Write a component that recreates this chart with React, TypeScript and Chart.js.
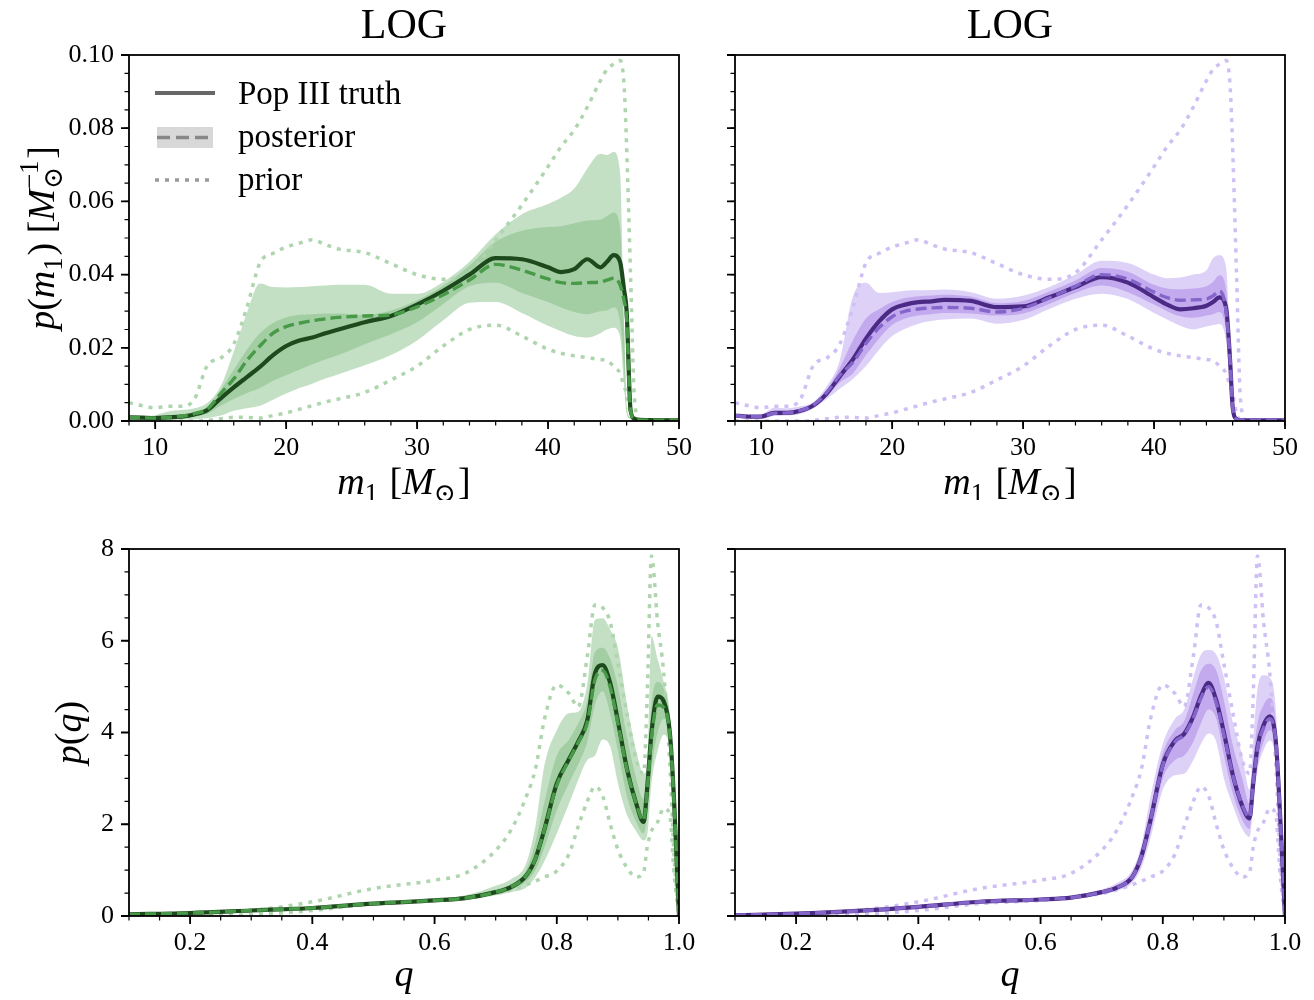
import React, { useEffect, useRef } from "react";
import { Chart, registerables } from "chart.js";

Chart.register(...registerables);

const FONT = "'Liberation Serif', 'Times New Roman', 'DejaVu Serif', serif";

// ---------- primary mass panels (top) ----------
const massGrid = [8, 9, 10, 11, 12, 13, 14, 15, 16, 17, 18, 19, 20, 21, 22, 23, 24, 26, 28, 30, 32, 34, 36, 38, 40, 41, 42, 43, 44, 44.5, 45, 45.5, 45.8, 46, 46.3, 46.6, 47, 50];

const massPriorUpper = [0.005, 0.0042, 0.0036, 0.004, 0.004, 0.006, 0.0153, 0.0172, 0.021, 0.031, 0.0432, 0.0458, 0.0475, 0.0486, 0.0495, 0.0482, 0.047, 0.046, 0.043, 0.04, 0.0387, 0.0405, 0.0495, 0.059, 0.0695, 0.075, 0.0795, 0.0858, 0.093, 0.096, 0.0975, 0.0985, 0.092, 0.075, 0.04, 0.006, 0.0003, 0.0002];
const massPriorLower = [0, 0, 0, 0, 0, 0, 0.0002, 0.0006, 0.001, 0.001, 0.0008, 0.0015, 0.0022, 0.0032, 0.0042, 0.0052, 0.006, 0.0078, 0.0112, 0.015, 0.0205, 0.025, 0.0262, 0.0232, 0.0196, 0.0185, 0.0178, 0.0173, 0.0168, 0.0165, 0.015, 0.013, 0.0095, 0.0075, 0.002, 0.0002, 0, 0];

const greenMassTruth = [0.001, 0.0009, 0.0008, 0.001, 0.0012, 0.0018, 0.003, 0.0062, 0.0092, 0.012, 0.0148, 0.018, 0.0205, 0.022, 0.0228, 0.024, 0.025, 0.027, 0.0287, 0.0318, 0.0356, 0.04, 0.0445, 0.0442, 0.042, 0.0407, 0.0415, 0.0442, 0.042, 0.0435, 0.0453, 0.0435, 0.036, 0.03, 0.003, 0.0006, 0.0003, 0.0002];
const greenMassPost = [0.001, 0.0009, 0.0008, 0.001, 0.0013, 0.002, 0.0033, 0.0075, 0.0115, 0.0165, 0.0205, 0.024, 0.0258, 0.0267, 0.0274, 0.0279, 0.0283, 0.0287, 0.029, 0.0312, 0.0345, 0.0385, 0.0428, 0.0412, 0.0388, 0.0378, 0.0376, 0.0378, 0.038, 0.0385, 0.039, 0.0372, 0.033, 0.028, 0.003, 0.0006, 0.0003, 0.0002];
const greenMassOuterUp = [0.0012, 0.0013, 0.0016, 0.0026, 0.003, 0.0035, 0.005, 0.0095, 0.019, 0.0295, 0.0376, 0.0366, 0.0365, 0.0366, 0.0368, 0.037, 0.0372, 0.0372, 0.0348, 0.0348, 0.038, 0.0435, 0.051, 0.0565, 0.0593, 0.061, 0.0635, 0.069, 0.073, 0.0727, 0.0735, 0.068, 0.028, 0.004, 0.001, 0.0005, 0.0003, 0.0002];
const greenMassOuterLo = [0.0005, 0.0004, 0.0003, 0.0004, 0.0004, 0.0005, 0.0008, 0.0015, 0.0028, 0.0035, 0.0042, 0.0058, 0.0075, 0.009, 0.0102, 0.0116, 0.0128, 0.0152, 0.018, 0.022, 0.0275, 0.0323, 0.0325, 0.0295, 0.026, 0.0245, 0.0232, 0.0228, 0.024, 0.025, 0.0255, 0.023, 0.01, 0.002, 0.0005, 0.0003, 0.0002, 0.0001];
const greenMassInnerUp = [0.0011, 0.0011, 0.0012, 0.0016, 0.0018, 0.0026, 0.004, 0.0085, 0.014, 0.0195, 0.024, 0.0268, 0.0283, 0.029, 0.0292, 0.0294, 0.0294, 0.029, 0.0302, 0.033, 0.037, 0.0425, 0.049, 0.052, 0.053, 0.0532, 0.054, 0.0548, 0.055, 0.056, 0.057, 0.053, 0.026, 0.0035, 0.0008, 0.0004, 0.0003, 0.0002];
const greenMassInnerLo = [0.0008, 0.0007, 0.0005, 0.0006, 0.0007, 0.0012, 0.002, 0.0042, 0.006, 0.0076, 0.009, 0.011, 0.0125, 0.014, 0.0155, 0.0168, 0.018, 0.021, 0.0237, 0.027, 0.032, 0.0368, 0.0378, 0.035, 0.0325, 0.031, 0.0298, 0.0292, 0.03, 0.0302, 0.031, 0.027, 0.014, 0.003, 0.0006, 0.0003, 0.0002, 0.0001];

const purpleMassTruth = [0.0015, 0.0012, 0.0012, 0.0022, 0.0022, 0.0028, 0.0043, 0.0075, 0.0122, 0.0168, 0.0225, 0.0272, 0.0305, 0.0318, 0.0325, 0.0327, 0.0331, 0.0328, 0.0311, 0.0313, 0.0338, 0.0366, 0.0393, 0.0378, 0.0338, 0.0318, 0.0305, 0.0308, 0.0315, 0.0325, 0.0338, 0.031, 0.017, 0.004, 0.0005, 0.0002, 0.0002, 0.0002];
const purpleMassPost = [0.0015, 0.0012, 0.0012, 0.0021, 0.0022, 0.0029, 0.0044, 0.0078, 0.0125, 0.016, 0.0212, 0.0255, 0.0285, 0.03, 0.0306, 0.0309, 0.031, 0.0308, 0.0298, 0.0308, 0.0336, 0.0368, 0.04, 0.0388, 0.0352, 0.0337, 0.033, 0.0331, 0.0333, 0.0342, 0.0355, 0.03, 0.017, 0.004, 0.0005, 0.0002, 0.0002, 0.0002];
const purpleMassOuterUp = [0.0018, 0.0016, 0.0018, 0.0036, 0.0035, 0.004, 0.0052, 0.0095, 0.0165, 0.034, 0.0378, 0.035, 0.0352, 0.0356, 0.0357, 0.0358, 0.0359, 0.0352, 0.0334, 0.0342, 0.0366, 0.04, 0.0438, 0.0432, 0.04, 0.039, 0.0392, 0.04, 0.0412, 0.0445, 0.0453, 0.042, 0.021, 0.005, 0.0008, 0.0003, 0.0002, 0.0002];
const purpleMassOuterLo = [0.001, 0.0008, 0.0007, 0.0014, 0.0015, 0.002, 0.0035, 0.006, 0.0088, 0.0115, 0.015, 0.0195, 0.0232, 0.0252, 0.0266, 0.0273, 0.0277, 0.028, 0.0266, 0.0276, 0.0306, 0.0334, 0.0348, 0.0333, 0.0295, 0.0277, 0.026, 0.025, 0.0258, 0.0262, 0.0265, 0.022, 0.011, 0.002, 0.0003, 0.0002, 0.0001, 0.0001];
const purpleMassInnerUp = [0.0016, 0.0014, 0.0015, 0.0028, 0.0028, 0.0034, 0.0048, 0.0085, 0.0145, 0.022, 0.028, 0.0305, 0.0325, 0.0336, 0.0341, 0.0343, 0.0345, 0.034, 0.0322, 0.0328, 0.0354, 0.0384, 0.0418, 0.0408, 0.0372, 0.0362, 0.036, 0.0362, 0.0368, 0.038, 0.0398, 0.036, 0.019, 0.0045, 0.0006, 0.0002, 0.0002, 0.0002];
const purpleMassInnerLo = [0.0012, 0.001, 0.0009, 0.0018, 0.0018, 0.0024, 0.0038, 0.0066, 0.0105, 0.013, 0.018, 0.0225, 0.0262, 0.028, 0.0288, 0.0292, 0.0295, 0.0294, 0.0288, 0.0294, 0.032, 0.035, 0.037, 0.0352, 0.0318, 0.03, 0.0286, 0.0282, 0.0288, 0.0292, 0.0298, 0.025, 0.014, 0.003, 0.0004, 0.0002, 0.0001, 0.0001];

// ---------- mass ratio panels (bottom) ----------
const qGrid = [0.1, 0.2, 0.3, 0.4, 0.5, 0.6, 0.65, 0.7, 0.725, 0.75, 0.765, 0.78, 0.8, 0.82, 0.835, 0.85, 0.8625, 0.875, 0.8875, 0.9, 0.915, 0.93, 0.942, 0.948, 0.955, 0.965, 0.975, 0.985, 0.992, 1.0];

const qPriorUpper = [0.015, 0.05, 0.12, 0.31, 0.6, 0.78, 0.93, 1.43, 1.87, 2.6, 3.2, 4.3, 5.04, 4.85, 4.56, 5.66, 6.78, 6.72, 6.4, 5.5, 4.4, 3.4, 3.1, 4.8, 7.85, 6.4, 5.3, 3.3, 1.3, 0];
const qPriorLower = [0, 0, 0.03, 0.12, 0.27, 0.34, 0.4, 0.49, 0.57, 0.68, 0.76, 0.85, 0.98, 1.35, 1.95, 2.5, 2.82, 2.62, 2.0, 1.45, 1.05, 0.85, 0.95, 1.5, 1.85, 2.05, 2.35, 2.2, 0.9, 0];

const greenQTruth = [0.036, 0.065, 0.12, 0.175, 0.27, 0.34, 0.39, 0.52, 0.63, 0.88, 1.25, 1.9, 2.89, 3.42, 3.8, 4.27, 5.29, 5.47, 5.07, 4.25, 3.2, 2.45, 2.05, 2.8, 4.0, 4.78, 4.68, 4.0, 2.5, 0];
const greenQPost = [0.036, 0.065, 0.12, 0.175, 0.27, 0.34, 0.39, 0.52, 0.63, 0.88, 1.25, 1.9, 2.85, 3.4, 3.78, 4.22, 5.15, 5.35, 4.98, 4.2, 3.18, 2.45, 2.08, 2.75, 3.9, 4.6, 4.55, 3.95, 2.45, 0];
const greenQOuterUp = [0.04, 0.07, 0.13, 0.19, 0.29, 0.37, 0.45, 0.66, 0.8, 1.15, 1.95, 3.3, 4.05, 4.42, 4.45, 5.07, 6.46, 6.49, 6.24, 5.85, 4.6, 3.6, 3.1, 3.3, 6.1, 5.6, 5.1, 4.4, 2.6, 0];
const greenQOuterLo = [0.03, 0.06, 0.11, 0.16, 0.25, 0.31, 0.35, 0.45, 0.52, 0.62, 0.85, 1.2, 1.8, 2.45, 2.96, 3.4, 3.5, 3.85, 3.69, 2.9, 2.2, 1.85, 1.65, 1.75, 2.9, 3.6, 3.95, 3.6, 2.3, 0];
const greenQInnerUp = [0.038, 0.068, 0.125, 0.18, 0.28, 0.355, 0.42, 0.58, 0.7, 1.0, 1.6, 2.5, 3.5, 3.85, 4.2, 4.7, 5.75, 5.85, 5.6, 5.0, 3.9, 3.0, 2.55, 3.0, 4.6, 5.1, 4.95, 4.3, 2.5, 0];
const greenQInnerLo = [0.034, 0.062, 0.115, 0.17, 0.26, 0.325, 0.37, 0.48, 0.57, 0.75, 1.0, 1.5, 2.3, 2.9, 3.3, 3.8, 4.6, 4.9, 4.4, 3.6, 2.6, 2.05, 1.8, 2.2, 3.2, 4.0, 4.3, 3.8, 2.3, 0];

const purpleQTruth = [0.015, 0.05, 0.11, 0.2, 0.31, 0.36, 0.4, 0.52, 0.62, 0.85, 1.3, 2.1, 3.3, 3.82, 3.97, 4.35, 4.8, 5.08, 4.7, 4.0, 3.05, 2.4, 2.13, 2.9, 3.69, 4.16, 4.35, 3.8, 2.2, 0];
const purpleQPost = [0.015, 0.05, 0.11, 0.2, 0.31, 0.36, 0.4, 0.52, 0.62, 0.85, 1.3, 2.1, 3.28, 3.8, 3.95, 4.32, 4.75, 5.0, 4.65, 3.95, 3.05, 2.42, 2.15, 2.9, 3.65, 4.1, 4.3, 3.8, 2.2, 0];
const purpleQOuterUp = [0.02, 0.055, 0.12, 0.21, 0.33, 0.38, 0.43, 0.58, 0.72, 1.0, 1.55, 2.6, 3.75, 4.3, 4.5, 5.2, 5.7, 5.8, 5.7, 5.2, 4.2, 3.5, 2.75, 3.8, 4.95, 5.25, 5.2, 4.5, 2.4, 0];
const purpleQOuterLo = [0.01, 0.045, 0.1, 0.19, 0.29, 0.34, 0.37, 0.47, 0.55, 0.72, 1.05, 1.7, 2.75, 3.07, 3.1, 3.4, 3.75, 3.98, 3.8, 3.0, 2.4, 1.9, 1.72, 2.4, 3.18, 3.62, 3.82, 3.4, 2.0, 0];
const purpleQInnerUp = [0.018, 0.052, 0.115, 0.205, 0.32, 0.37, 0.415, 0.55, 0.67, 0.92, 1.45, 2.35, 3.55, 4.05, 4.25, 4.85, 5.35, 5.5, 5.35, 4.7, 3.7, 3.0, 2.45, 3.4, 4.2, 4.6, 4.75, 4.2, 2.3, 0];
const purpleQInnerLo = [0.012, 0.048, 0.105, 0.195, 0.3, 0.35, 0.385, 0.49, 0.58, 0.78, 1.15, 1.85, 3.0, 3.4, 3.5, 3.8, 4.2, 4.5, 4.3, 3.5, 2.65, 2.1, 1.9, 2.6, 3.3, 3.8, 4.05, 3.6, 2.1, 0];

// ---------- ticks ----------
const massTicks = [10, 20, 30, 40, 50];
const massTickLabels = ["10", "20", "30", "40", "50"];
const pMassTicks = [0, 0.02, 0.04, 0.06, 0.08, 0.1];
const pMassTickLabels = ["0.00", "0.02", "0.04", "0.06", "0.08", "0.10"];
const qTicks = [0.2, 0.4, 0.6, 0.8, 1.0];
const qTickLabels = ["0.2", "0.4", "0.6", "0.8", "1.0"];
const pqTicks = [0, 2, 4, 6, 8];
const pqTickLabels = ["0", "2", "4", "6", "8"];

const panelTitle = "LOG";
const legendLabels = ["Pop III truth", "posterior", "prior"];

const GREEN = { truth: "#1d4a1d", post: "#489a48", outer: "#c4e0c4", inner: "#a3cea3", prior: "#aed5ae" };
const PURPLE = { truth: "#4b2a85", post: "#8466cb", outer: "#ddd1f7", inner: "#c3aaee", prior: "#cfbff4" };

type Seg = { t: string; it?: boolean; pos?: "sub" | "sup" | "subsup"; t2?: string };

function segFont(it: boolean | undefined, size: number) {
  return `${it ? "italic " : ""}${size}px ${FONT}`;
}

function drawRich(ctx: CanvasRenderingContext2D, segs: Seg[], size: number, cx: number, cy: number, rot: number) {
  ctx.save();
  ctx.translate(cx, cy);
  ctx.rotate(rot);
  const small = size * 0.7;
  const widths = segs.map((s) => {
    if (!s.pos) {
      ctx.font = segFont(s.it, size);
      return ctx.measureText(s.t).width;
    }
    ctx.font = segFont(s.it, small);
    const w1 = ctx.measureText(s.t).width;
    const w2 = s.t2 ? ctx.measureText(s.t2).width : 0;
    return Math.max(w1, w2) + size * 0.05;
  });
  const total = widths.reduce((a, b) => a + b, 0);
  let x = -total / 2;
  ctx.textAlign = "left";
  ctx.textBaseline = "alphabetic";
  ctx.fillStyle = "#000";
  segs.forEach((s, i) => {
    if (!s.pos) {
      ctx.font = segFont(s.it, size);
      ctx.fillText(s.t, x, 0);
    } else {
      ctx.font = segFont(s.it, small);
      if (s.pos === "sub" || s.pos === "subsup") ctx.fillText(s.t, x, size * 0.2);
      if (s.pos === "sup") ctx.fillText(s.t, x, -size * 0.42);
      if (s.pos === "subsup" && s.t2) ctx.fillText(s.t2, x, -size * 0.42);
    }
    x += widths[i];
  });
  ctx.restore();
}

function stepValues(min: number, max: number, step: number) {
  const out: number[] = [];
  const n = Math.round((max - min) / step);
  for (let i = 0; i <= n; i++) out.push(min + i * step);
  return out;
}

type Series = { truth: number[]; post: number[]; outerUp: number[]; outerLo: number[]; innerUp: number[]; innerLo: number[]; priorUp: number[]; priorLo: number[] };

type PanelCfg = {
  left: number; top: number; width: number; height: number;
  padding: { left: number; top: number; right: number; bottom: number };
  yW: number; xH: number;
  grid: number[]; series: Series; colors: typeof GREEN;
  xMin: number; xMax: number; yMin: number; yMax: number;
  xTicks: number[]; xTickLabels: string[]; yTicks: number[]; yTickLabels: string[];
  showYLabels: boolean; xMinorStep: number; yMinorStep: number;
  title?: string; xLabel: Seg[]; xLabelY: number; yLabel?: Seg[]; yLabelX?: number;
  legend?: boolean;
};

const xLabelMass: Seg[] = [{ t: "m", it: true }, { t: "1", pos: "sub" }, { t: " [" }, { t: "M", it: true }, { t: "\u2299", pos: "sub" }, { t: "]" }];
const yLabelMass: Seg[] = [{ t: "p", it: true }, { t: "(" }, { t: "m", it: true }, { t: "1", pos: "sub" }, { t: ")" }, { t: " [" }, { t: "M", it: true }, { t: "\u2299", t2: "\u22121", pos: "subsup" }, { t: "]" }];
const xLabelQ: Seg[] = [{ t: "q", it: true }];
const yLabelQ: Seg[] = [{ t: "p", it: true }, { t: "(" }, { t: "q", it: true }, { t: ")" }];

const greenMass: Series = { truth: greenMassTruth, post: greenMassPost, outerUp: greenMassOuterUp, outerLo: greenMassOuterLo, innerUp: greenMassInnerUp, innerLo: greenMassInnerLo, priorUp: massPriorUpper, priorLo: massPriorLower };
const purpleMass: Series = { truth: purpleMassTruth, post: purpleMassPost, outerUp: purpleMassOuterUp, outerLo: purpleMassOuterLo, innerUp: purpleMassInnerUp, innerLo: purpleMassInnerLo, priorUp: massPriorUpper, priorLo: massPriorLower };
const greenQ: Series = { truth: greenQTruth, post: greenQPost, outerUp: greenQOuterUp, outerLo: greenQOuterLo, innerUp: greenQInnerUp, innerLo: greenQInnerLo, priorUp: qPriorUpper, priorLo: qPriorLower };
const purpleQ: Series = { truth: purpleQTruth, post: purpleQPost, outerUp: purpleQOuterUp, outerLo: purpleQOuterLo, innerUp: purpleQInnerUp, innerLo: purpleQInnerLo, priorUp: qPriorUpper, priorLo: qPriorLower };

const massBase = { xMin: 8, xMax: 50, yMin: 0, yMax: 0.1, xTicks: massTicks, xTickLabels: massTickLabels, yTicks: pMassTicks, yTickLabels: pMassTickLabels, xMinorStep: 2, yMinorStep: 0.005, grid: massGrid, xLabel: xLabelMass, xLabelY: 494, title: panelTitle };
const qBase = { xMin: 0.1, xMax: 1.0, yMin: 0, yMax: 8, xTicks: qTicks, xTickLabels: qTickLabels, yTicks: pqTicks, yTickLabels: pqTickLabels, xMinorStep: 0.05, yMinorStep: 0.5, grid: qGrid, xLabel: xLabelQ, xLabelY: 486 };

const panels: PanelCfg[] = [
  { ...massBase, left: 0, top: 0, width: 700, height: 500, padding: { left: 69, top: 55, right: 21, bottom: 19 }, yW: 60, xH: 60, series: greenMass, colors: GREEN, showYLabels: true, yLabel: yLabelMass, yLabelX: 54, legend: true },
  { ...massBase, left: 680, top: 0, width: 634, height: 500, padding: { left: 25, top: 55, right: 29, bottom: 19 }, yW: 30, xH: 60, series: purpleMass, colors: PURPLE, showYLabels: false },
  { ...qBase, left: 0, top: 500, width: 700, height: 500, padding: { left: 69, top: 49, right: 21, bottom: 24 }, yW: 60, xH: 60, series: greenQ, colors: GREEN, showYLabels: true, yLabel: yLabelQ, yLabelX: 81 },
  { ...qBase, left: 680, top: 500, width: 634, height: 500, padding: { left: 25, top: 49, right: 29, bottom: 24 }, yW: 30, xH: 60, series: purpleQ, colors: PURPLE, showYLabels: false },
];

function labelFor(ticks: number[], labels: string[], v: number) {
  const i = ticks.findIndex((t) => Math.abs(t - v) < 1e-9);
  return i >= 0 ? labels[i] : "";
}

function Panel({ cfg }: { cfg: PanelCfg }) {
  const ref = useRef<HTMLCanvasElement | null>(null);
  useEffect(() => {
    if (!ref.current) return;
    const pts = (vals: number[]) => cfg.grid.map((x, i) => ({ x, y: vals[i] }));
    const c = cfg.colors;
    const s = cfg.series;
    const line = { pointRadius: 0, pointHoverRadius: 0, cubicInterpolationMode: "monotone" as const };
    const band = { ...line, borderWidth: 0, borderColor: "rgba(0,0,0,0)" };

    const decor = {
      id: "decor" + cfg.left + "_" + cfg.top,
      afterDraw(chart: any) {
        const ctx: CanvasRenderingContext2D = chart.ctx;
        const a = chart.chartArea;
        const xs = chart.scales.x;
        const ys = chart.scales.y;
        ctx.save();
        ctx.strokeStyle = "#000";
        ctx.lineCap = "butt";
        ctx.lineWidth = 1.2;
        ctx.beginPath();
        stepValues(cfg.xMin, cfg.xMax, cfg.xMinorStep).forEach((v) => {
          const px = xs.getPixelForValue(v);
          ctx.moveTo(px, a.bottom);
          ctx.lineTo(px, a.bottom + 4.5);
        });
        stepValues(cfg.yMin, cfg.yMax, cfg.yMinorStep).forEach((v) => {
          const py = ys.getPixelForValue(v);
          ctx.moveTo(a.left, py);
          ctx.lineTo(a.left - 4.5, py);
        });
        ctx.stroke();
        ctx.lineWidth = 1.8;
        ctx.beginPath();
        cfg.xTicks.forEach((v) => {
          const px = xs.getPixelForValue(v);
          ctx.moveTo(px, a.bottom);
          ctx.lineTo(px, a.bottom + 8);
        });
        cfg.yTicks.forEach((v) => {
          const py = ys.getPixelForValue(v);
          ctx.moveTo(a.left, py);
          ctx.lineTo(a.left - 8, py);
        });
        ctx.stroke();
        ctx.lineWidth = 1.8;
        ctx.strokeRect(a.left, a.top, a.right - a.left, a.bottom - a.top);

        const cx = (a.left + a.right) / 2;
        const cy = (a.top + a.bottom) / 2;
        if (cfg.title) {
          ctx.font = `42px ${FONT}`;
          ctx.fillStyle = "#000";
          ctx.textAlign = "center";
          ctx.textBaseline = "alphabetic";
          ctx.fillText(cfg.title, cx, 38);
        }
        drawRich(ctx, cfg.xLabel, 38, cx, cfg.xLabelY, 0);
        if (cfg.yLabel && cfg.yLabelX !== undefined) drawRich(ctx, cfg.yLabel, 38, cfg.yLabelX, cy, -Math.PI / 2);

        if (cfg.legend) {
          const lx0 = 155, lx1 = 215;
          ctx.setLineDash([]);
          ctx.strokeStyle = "#676767";
          ctx.lineWidth = 4;
          ctx.beginPath(); ctx.moveTo(lx0, 93); ctx.lineTo(lx1, 93); ctx.stroke();
          ctx.fillStyle = "#d8d8d8";
          ctx.fillRect(157, 127, 56, 21);
          ctx.strokeStyle = "#888888";
          ctx.lineWidth = 3.5;
          ctx.setLineDash([13, 6]);
          ctx.beginPath(); ctx.moveTo(157, 137.5); ctx.lineTo(213, 137.5); ctx.stroke();
          ctx.strokeStyle = "#9a9a9a";
          ctx.lineWidth = 3.5;
          ctx.setLineDash([4, 6]);
          ctx.beginPath(); ctx.moveTo(lx0, 180); ctx.lineTo(lx1, 180); ctx.stroke();
          ctx.setLineDash([]);
          ctx.fillStyle = "#000";
          ctx.font = `33px ${FONT}`;
          ctx.textAlign = "left";
          ctx.textBaseline = "alphabetic";
          ctx.fillText(legendLabels[0], 238, 104);
          ctx.fillText(legendLabels[1], 238, 147);
          ctx.fillText(legendLabels[2], 238, 190);
        }
        ctx.restore();
      },
    };

    const chart = new Chart(ref.current, {
      type: "line",
      data: {
        datasets: [
          { ...band, label: "outer upper", data: pts(s.outerUp), backgroundColor: c.outer, fill: "+1", order: 10 },
          { ...band, label: "outer lower", data: pts(s.outerLo), backgroundColor: c.outer, fill: false, order: 10 },
          { ...band, label: "inner upper", data: pts(s.innerUp), backgroundColor: c.inner, fill: "+1", order: 9 },
          { ...band, label: "inner lower", data: pts(s.innerLo), backgroundColor: c.inner, fill: false, order: 9 },
          { ...line, label: "prior upper", data: pts(s.priorUp), borderColor: c.prior, borderWidth: 3.5, borderDash: [4, 6], fill: false, order: 3 },
          { ...line, label: "prior lower", data: pts(s.priorLo), borderColor: c.prior, borderWidth: 3.5, borderDash: [4, 6], fill: false, order: 3 },
          { ...line, label: "Pop III truth", data: pts(s.truth), borderColor: c.truth, borderWidth: 4.2, fill: false, order: 2 },
          { ...line, label: "posterior", data: pts(s.post), borderColor: c.post, borderWidth: 3.4, borderDash: [11, 5], fill: false, order: 1 },
        ] as any,
      },
      options: {
        responsive: false,
        maintainAspectRatio: false,
        animation: false,
        devicePixelRatio: 1,
        events: [],
        layout: { padding: cfg.padding },
        plugins: {
          legend: { display: false },
          tooltip: { enabled: false },
          title: { display: false },
          filler: { propagate: false },
        },
        scales: {
          x: {
            type: "linear",
            min: cfg.xMin,
            max: cfg.xMax,
            grid: { display: false, drawTicks: false },
            border: { display: false },
            ticks: {
              color: "#000",
              font: { family: FONT, size: 26 },
              padding: 12,
              maxRotation: 0,
              autoSkip: false,
              callback: (v: any) => labelFor(cfg.xTicks, cfg.xTickLabels, Number(v)),
            },
            afterBuildTicks: (sc: any) => { sc.ticks = cfg.xTicks.map((v) => ({ value: v })); },
            afterFit: (sc: any) => { sc.height = cfg.xH; sc.paddingLeft = 0; sc.paddingRight = 0; },
          },
          y: {
            type: "linear",
            min: cfg.yMin,
            max: cfg.yMax,
            grid: { display: false, drawTicks: false },
            border: { display: false },
            ticks: {
              display: cfg.showYLabels,
              color: "#000",
              font: { family: FONT, size: 26 },
              padding: 15,
              autoSkip: false,
              callback: (v: any) => labelFor(cfg.yTicks, cfg.yTickLabels, Number(v)),
            },
            afterBuildTicks: (sc: any) => { sc.ticks = cfg.yTicks.map((v) => ({ value: v })); },
            afterFit: (sc: any) => { sc.width = cfg.yW; sc.paddingTop = 0; sc.paddingBottom = 0; },
          },
        },
      } as any,
      plugins: [decor],
    });
    return () => chart.destroy();
  }, [cfg]);

  return (
    <canvas
      ref={ref}
      width={cfg.width}
      height={cfg.height}
      style={{ position: "absolute", left: cfg.left, top: cfg.top, width: cfg.width, height: cfg.height }}
    />
  );
}

export default function App() {
  return (
    <div style={{ position: "fixed", left: 0, top: 0, width: 1314, height: 1000, background: "#ffffff", overflow: "hidden" }}>
      {panels.map((p, i) => (
        <Panel key={i} cfg={p} />
      ))}
    </div>
  );
}
